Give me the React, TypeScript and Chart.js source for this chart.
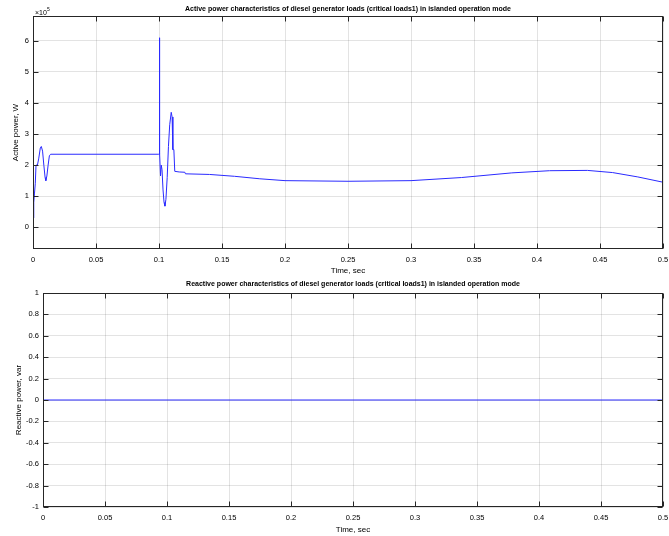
import React, { useEffect, useRef } from "react";
import { Chart, registerables } from "chart.js";

Chart.register(...registerables);

// ---------- data ----------
const timeActive = [
  0, 0.0006, 0.0012, 0.0018, 0.0024, 0.0035, 0.0045, 0.0058, 0.0066, 0.0076,
  0.0086, 0.0096, 0.0102, 0.011, 0.012, 0.013, 0.014, 0.05, 0.0998, 0.1,
  0.1003, 0.1006, 0.1012, 0.1018, 0.1024, 0.1032, 0.104, 0.1047, 0.1055, 0.1065,
  0.1075, 0.1085, 0.1097, 0.1104, 0.111, 0.1118, 0.1125, 0.116, 0.1205, 0.121,
  0.14, 0.16, 0.18, 0.2, 0.25, 0.3, 0.34, 0.38, 0.41, 0.44, 0.46, 0.48, 0.5,
];
const activePower = [
  0.3, 0.8, 1.1, 1.4, 2.0, 2.0, 2.2, 2.55, 2.6, 2.45,
  2.0, 1.6, 1.5, 1.65, 2.0, 2.3, 2.35, 2.35, 2.35, 2.35,
  6.1, 2.4, 1.65, 2.0, 1.85, 1.2, 0.8, 0.68, 0.9, 1.6,
  2.6, 3.3, 3.7, 3.55, 2.5, 2.5, 1.8, 1.78, 1.77, 1.72,
  1.7, 1.64, 1.56, 1.5, 1.48, 1.5, 1.6, 1.75, 1.82, 1.83, 1.76, 1.62, 1.45,
];
const timeReactive = [0, 0.5];
const reactivePower = [0, 0];

const xTickValues = [0, 0.05, 0.1, 0.15, 0.2, 0.25, 0.3, 0.35, 0.4, 0.45, 0.5];
const xTickLabels = ["0", "0.05", "0.1", "0.15", "0.2", "0.25", "0.3", "0.35", "0.4", "0.45", "0.5"];
const activeTickValues = [0, 1, 2, 3, 4, 5, 6];
const activeTickLabels = ["0", "1", "2", "3", "4", "5", "6"];
const reactiveTickValues = [-1, -0.8, -0.6, -0.4, -0.2, 0, 0.2, 0.4, 0.6, 0.8, 1];
const reactiveTickLabels = ["-1", "-0.8", "-0.6", "-0.4", "-0.2", "0", "0.2", "0.4", "0.6", "0.8", "1"];

const activeTitle =
  "Active power characteristics of diesel generator loads (critical loads1) in islanded operation mode";
const reactiveTitle =
  "Reactive power characteristics of diesel generator loads (critical loads1) in islanded operation mode";

const FONT = '"Liberation Sans", Arial, Helvetica, sans-serif';
const AXIS_COLOR = "#262626";
const GRID_COLOR = "rgba(0,0,0,0.11)";
const LINE_COLOR = "#2a2aff";

type PanelOpts = {
  times: number[];
  values: number[];
  yMin: number;
  yMax: number;
  yTicks: number[];
  yLabels: string[];
  title: string;
  yTitle: string;
  yTitleX: number;
  titleY: number;
  xTitleY: number;
  exponent: boolean;
  padTop: number;
  yWidth: number;
  xHeight: number;
};

function makeConfig(o: PanelOpts): any {
  const decor = {
    id: "decor",
    afterDraw(chart: any) {
      const ctx = chart.ctx as CanvasRenderingContext2D;
      const a = chart.chartArea;
      const xs = chart.scales.x;
      const ys = chart.scales.y;
      ctx.save();
      ctx.strokeStyle = AXIS_COLOR;
      ctx.lineWidth = 1;
      const L = Math.round(a.left) + 0.5;
      const R = Math.round(a.right) - 0.5;
      const T = Math.round(a.top) + 0.5;
      const B = Math.round(a.bottom) - 0.5;
      ctx.strokeRect(L, T, R - L, B - T);
      const tl = 5;
      ctx.beginPath();
      xTickValues.forEach((v) => {
        const px = Math.round(xs.getPixelForValue(v)) + 0.5;
        ctx.moveTo(px, B);
        ctx.lineTo(px, B - tl);
        ctx.moveTo(px, T);
        ctx.lineTo(px, T + tl);
      });
      o.yTicks.forEach((v) => {
        const py = Math.round(ys.getPixelForValue(v)) + 0.5;
        ctx.moveTo(L, py);
        ctx.lineTo(L + tl, py);
        ctx.moveTo(R, py);
        ctx.lineTo(R - tl, py);
      });
      ctx.stroke();

      ctx.fillStyle = "#000";
      ctx.textAlign = "center";
      ctx.textBaseline = "middle";
      ctx.font = `bold 7px ${FONT}`;
      ctx.fillText(o.title, (a.left + a.right) / 2, o.titleY);
      ctx.font = `8px ${FONT}`;
      ctx.fillText("Time, sec", (a.left + a.right) / 2, o.xTitleY);
      ctx.save();
      ctx.translate(o.yTitleX, (a.top + a.bottom) / 2);
      ctx.rotate(-Math.PI / 2);
      ctx.fillText(o.yTitle, 0, 0);
      ctx.restore();
      if (o.exponent) {
        ctx.textAlign = "left";
        ctx.font = `7px ${FONT}`;
        ctx.fillText("\u00d710", a.left + 2, a.top - 3);
        ctx.font = `5px ${FONT}`;
        ctx.fillText("5", a.left + 14, a.top - 6);
      }
      ctx.restore();
    },
  };

  return {
    type: "line",
    data: {
      datasets: [
        {
          data: o.times.map((t, i) => ({ x: t, y: o.values[i] })),
          borderColor: LINE_COLOR,
          borderWidth: 1,
          pointRadius: 0,
          tension: 0,
          fill: false,
        },
      ],
    },
    options: {
      animation: false,
      responsive: false,
      devicePixelRatio: 1,
      layout: { padding: { top: o.padTop, right: 6, left: 0, bottom: 0 } },
      plugins: { legend: { display: false }, tooltip: { enabled: false }, title: { display: false } },
      scales: {
        x: {
          type: "linear",
          min: 0,
          max: 0.5,
          afterBuildTicks: (s: any) => {
            s.ticks = xTickValues.map((v) => ({ value: v }));
          },
          afterFit: (s: any) => {
            s.height = o.xHeight;
            s.paddingLeft = 0;
            s.paddingRight = 0;
          },
          ticks: {
            autoSkip: false,
            maxRotation: 0,
            padding: 6,
            color: "#000",
            font: { family: FONT, size: 7.5 },
            callback: (_v: any, i: number) => xTickLabels[i],
          },
          grid: { color: GRID_COLOR, drawTicks: false },
          border: { display: false },
        },
        y: {
          type: "linear",
          min: o.yMin,
          max: o.yMax,
          afterBuildTicks: (s: any) => {
            s.ticks = o.yTicks.map((v) => ({ value: v }));
          },
          afterFit: (s: any) => {
            s.width = o.yWidth;
            s.paddingTop = 0;
            s.paddingBottom = 0;
          },
          ticks: {
            autoSkip: false,
            padding: 4,
            color: "#000",
            font: { family: FONT, size: 7.5 },
            callback: (_v: any, i: number) => o.yLabels[i],
          },
          grid: { color: GRID_COLOR, drawTicks: false },
          border: { display: false },
        },
      },
    },
    plugins: [decor],
  };
}

export default function App() {
  const topRef = useRef<HTMLCanvasElement>(null);
  const botRef = useRef<HTMLCanvasElement>(null);

  useEffect(() => {
    const c1 = new Chart(
      topRef.current!,
      makeConfig({
        times: timeActive,
        values: activePower,
        yMin: -0.7,
        yMax: 6.8,
        yTicks: activeTickValues,
        yLabels: activeTickLabels,
        title: activeTitle,
        yTitle: "Active power, W",
        yTitleX: 16,
        titleY: 9,
        xTitleY: 271,
        exponent: true,
        padTop: 16,
        yWidth: 33,
        xHeight: 29,
      })
    );
    const c2 = new Chart(
      botRef.current!,
      makeConfig({
        times: timeReactive,
        values: reactivePower,
        yMin: -1,
        yMax: 1,
        yTicks: reactiveTickValues,
        yLabels: reactiveTickLabels,
        title: reactiveTitle,
        yTitle: "Reactive power, var",
        yTitleX: 19,
        titleY: 6,
        xTitleY: 252,
        exponent: false,
        padTop: 15,
        yWidth: 43,
        xHeight: 29,
      })
    );
    return () => {
      c1.destroy();
      c2.destroy();
    };
  }, []);

  return (
    <div style={{ position: "absolute", left: 0, top: 0, width: 669, height: 536, background: "#fff" }}>
      <canvas ref={topRef} width={669} height={278} style={{ position: "absolute", left: 0, top: 0, width: 669, height: 278 }} />
      <canvas ref={botRef} width={669} height={258} style={{ position: "absolute", left: 0, top: 278, width: 669, height: 258 }} />
    </div>
  );
}
